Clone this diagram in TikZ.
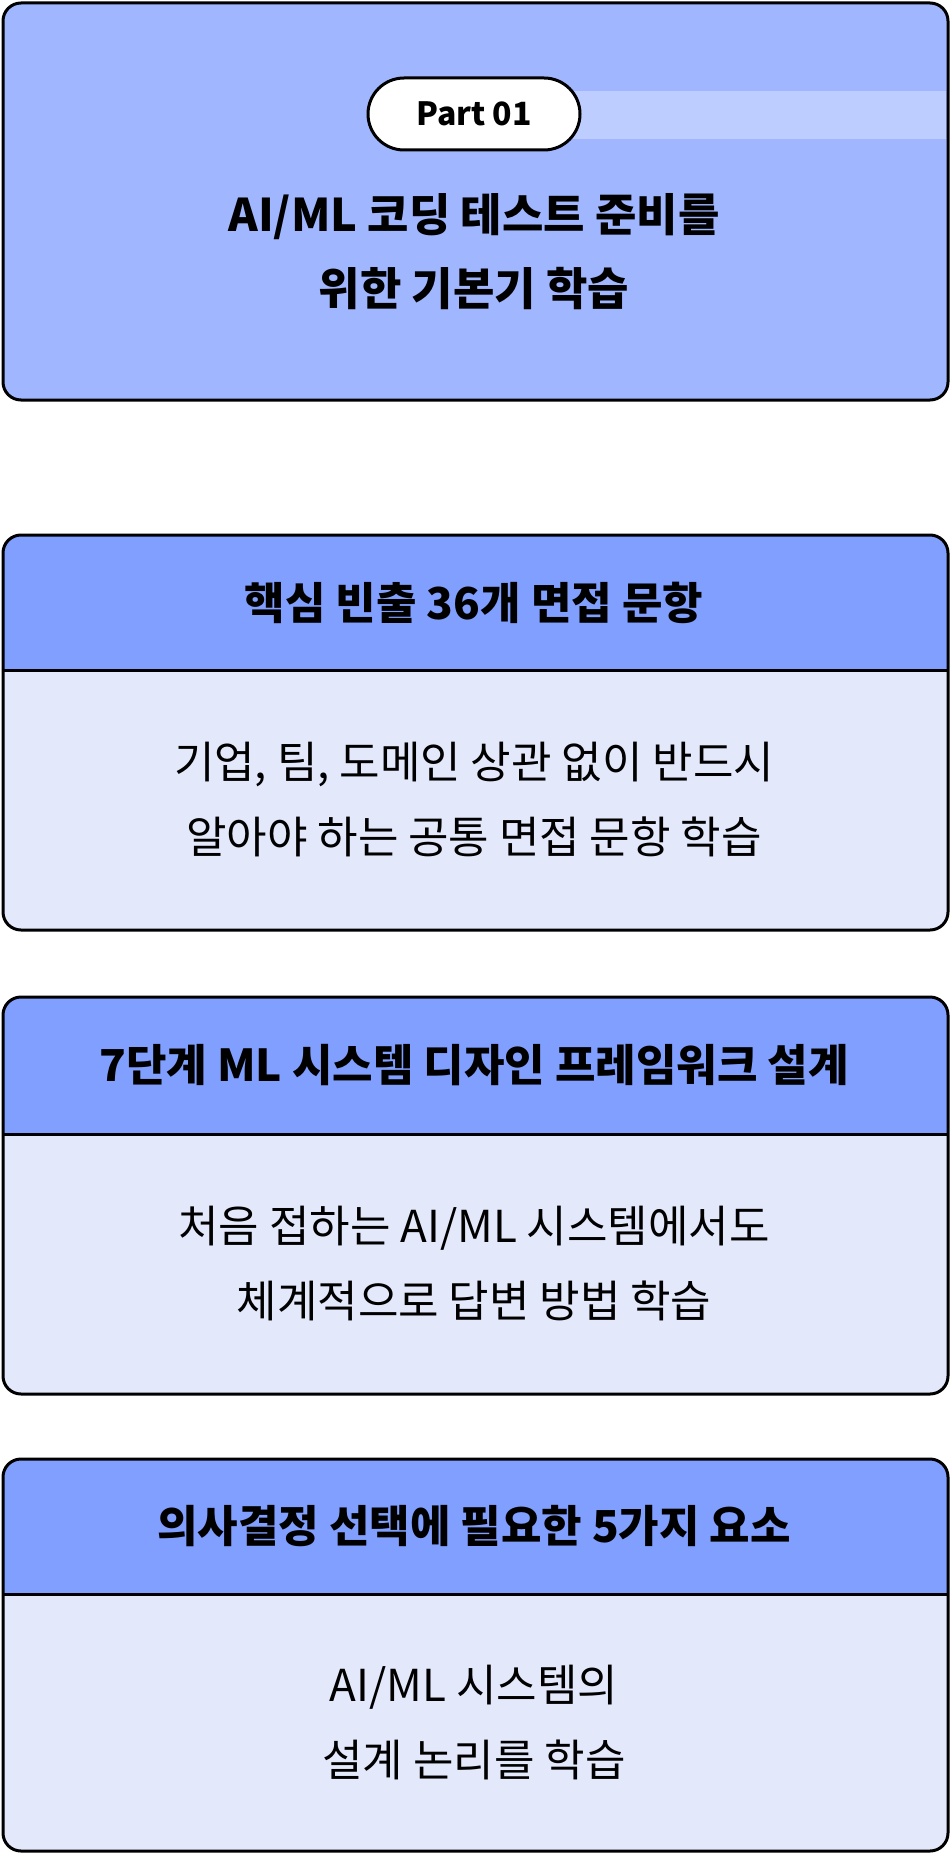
\documentclass[tikz,border=0pt]{standalone}
\usepackage{fontspec}
\setmainfont{Noto Sans CJK KR}
\definecolor{topc}{HTML}{A0B6FF}
\definecolor{band}{HTML}{BDCDFF}
\definecolor{headc}{HTML}{809FFF}
\definecolor{bodyc}{HTML}{E3E8FB}
\begin{document}
\begin{tikzpicture}[x=1pt,y=-1pt,
  frame/.style={draw=black,line width=3pt,rounded corners=18pt},
  ttl/.style={font=\fontsize{45}{74}\selectfont\bfseries,align=center,text=black},
  hd/.style={font=\fontsize{44}{50}\selectfont\bfseries,text=black},
  bd/.style={font=\fontsize{44}{75}\selectfont,align=center,text=black}]
\useasboundingbox (0,0) rectangle (951,1854);
% top box
\fill[topc,rounded corners=18pt] (3,3) rectangle (948,400);
\fill[band] (560,91) rectangle (946,139);
\node[draw=black,line width=3pt,fill=white,rounded corners=36pt,minimum width=212pt,minimum height=72pt,font=\fontsize{32}{36}\selectfont\bfseries] (pill) at (474,114) {Part 01};
\node[ttl] (t1) at (474,252) {AI/ML 코딩 테스트 준비를\\위한 기본기 학습};
\draw[frame] (3,3) rectangle (948,400);
% boxes
\foreach \top/\mid/\bot/\h/\b [count=\i] in {
  535/670/930/{핵심 빈출 36개 면접 문항}/{기업, 팀, 도메인 상관 없이 반드시\\알아야 하는 공통 면접 문항 학습},
  997/1134/1394/{7단계 ML 시스템 디자인 프레임워크 설계}/{처음 접하는 AI/ML 시스템에서도\\체계적으로 답변 방법 학습},
  1459/1594/1851/{의사결정 선택에 필요한 5가지 요소}/{AI/ML 시스템의\\설계 논리를 학습}} {
  \begin{scope}
  \clip[rounded corners=18pt] (3,\top) rectangle (948,\bot);
  \fill[headc] (3,\top) rectangle (948,\mid);
  \fill[bodyc] (3,\mid) rectangle (948,\bot);
  \end{scope}
  \draw[line width=3pt] (3,\mid) -- (948,\mid);
  \draw[frame] (3,\top) rectangle (948,\bot);
  \node[hd] (h\i) at (474,{(\top+\mid)/2}) {\h};
  \node[bd] (b\i) at (474,{(\mid+\bot)/2}) {\b};
}
\end{tikzpicture}
\end{document}
